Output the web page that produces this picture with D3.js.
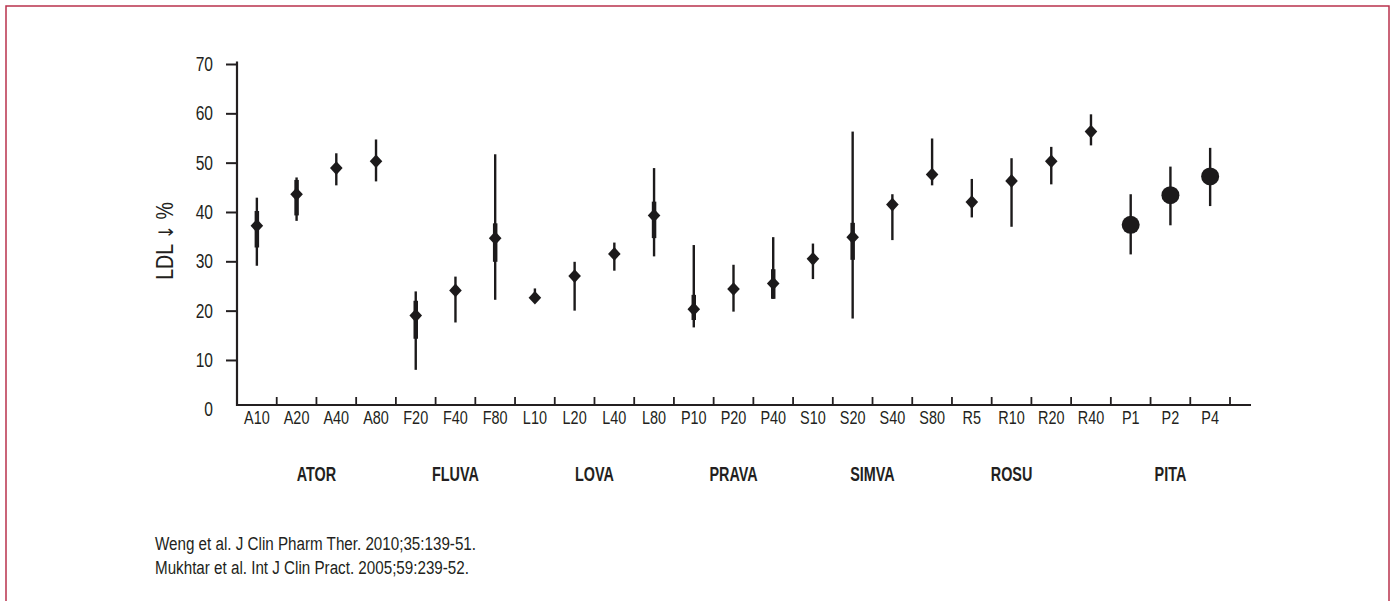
<!DOCTYPE html>
<html>
<head>
<meta charset="utf-8">
<script src="https://cdn.jsdelivr.net/npm/d3@7"></script>
<style>
  html, body { margin: 0; padding: 0; background: #fff; }
  svg { display: block; }
  text { font-family: "Liberation Sans", Arial, Helvetica, sans-serif; fill: #231f20; }
</style>
</head>
<body>
<svg id="chart" width="1395" height="601"></svg>
<script>
// ---- data ----
const categories = ["A10","A20","A40","A80","F20","F40","F80","L10","L20","L40","L80",
  "P10","P20","P40","S10","S20","S40","S80","R5","R10","R20","R40","P1","P2","P4"];
const meanValues = [37.2,43.6,48.9,50.3,19.0,24.1,34.7,22.6,27.0,31.5,39.3,
  20.3,24.4,25.5,30.5,34.9,41.5,47.6,42.0,46.3,50.3,56.3,37.4,43.4,47.2];
const rangeLow  = [29.1,38.2,45.4,46.2,8.0,17.6,22.2,22.0,20.0,28.1,31.0,
  16.6,19.8,22.4,26.4,18.4,34.3,45.4,38.9,37.0,45.6,53.5,31.4,37.3,41.2];
const rangeHigh = [42.9,47.0,51.9,54.7,23.9,26.9,51.7,24.5,29.9,33.8,48.9,
  33.3,29.3,34.9,33.6,56.3,43.6,54.9,46.7,50.9,53.2,59.8,43.6,49.2,53.0];
// inner (thicker) interval, null where none is drawn
const innerLow  = [32.8,39.3,null,null,14.3,null,29.9,null,null,null,34.7,
  18.1,null,22.4,null,30.3,null,null,null,null,null,null,null,null,null];
const innerHigh = [40.2,46.5,null,null,22.0,null,37.7,null,null,null,42.1,
  23.2,null,28.4,null,37.8,null,null,null,null,null,null,null,null,null];
const markerShape = ["d","d","d","d","d","d","d","d","d","d","d",
  "d","d","d","d","d","d","d","d","d","d","d","c","c","c"];
const groupNames = ["ATOR","FLUVA","LOVA","PRAVA","SIMVA","ROSU","PITA"];
const groupAnchors = [["A20","A40"],["F40"],["L20","L40"],["P20"],["S20","S40"],["R10"],["P2"]];
const yTicks = [0,10,20,30,40,50,60,70];
const yLabelParts = ["LDL ", "\u2193", " %"];
const citations = ["Weng et al. J Clin Pharm Ther. 2010;35:139-51.",
  "Mukhtar et al. Int J Clin Pract. 2005;59:239-52."];

// ---- layout ----
const svg = d3.select("#chart");
const ink = "#231f20";
const markInk = "#1c1a1b";
const narrow = 0.76;   // horizontal compression to mimic a condensed face

svg.append("rect").attr("x", 6).attr("y", 6).attr("width", 1383).attr("height", 640)
  .attr("fill", "none").attr("stroke", "#b9324c").attr("stroke-width", 1.5);

const x = d3.scaleBand().domain(categories).range([237, 1230]).padding(0);
const y = d3.scaleLinear().domain([0, 70]).range([409.3, 64]);
const axisY = 405;

const data = categories.map((c, i) => ({
  c, m: meanValues[i], lo: rangeLow[i], hi: rangeHigh[i],
  ilo: innerLow[i], ihi: innerHigh[i], shape: markerShape[i]
}));
const cx = d => x(d.c) + x.bandwidth() / 2;

// y axis
const yAxis = svg.append("g").attr("transform", "translate(237,0)")
  .call(d3.axisLeft(y).tickValues(yTicks).tickSize(11).tickPadding(13).tickSizeOuter(0));
yAxis.select(".domain").remove();
yAxis.selectAll(".tick line").attr("stroke", ink).attr("stroke-width", 2)
  .filter(d => d === 0).remove();
yAxis.selectAll(".tick text").attr("font-size", 20.5).attr("fill", ink)
  .style("font-family", "'Liberation Sans',Arial,sans-serif")
  .attr("x", -24 / narrow).attr("transform", `scale(${narrow},1)`);
svg.append("line").attr("x1", 237).attr("x2", 237).attr("y1", 61.5).attr("y2", axisY + 1)
  .attr("stroke", ink).attr("stroke-width", 2.2);

// x axis
svg.append("line").attr("x1", 236).attr("x2", 1251).attr("y1", axisY).attr("y2", axisY)
  .attr("stroke", ink).attr("stroke-width", 2.2);
svg.append("g").selectAll("line").data(categories).join("line")
  .attr("x1", c => x(c) + x.bandwidth()).attr("x2", c => x(c) + x.bandwidth())
  .attr("y1", axisY).attr("y2", axisY - 8).attr("stroke", ink).attr("stroke-width", 1.8);
const xAxis = svg.append("g").attr("transform", `translate(0,${axisY})`)
  .call(d3.axisBottom(x).tickSize(0).tickPadding(6));
xAxis.select(".domain").remove();
xAxis.selectAll(".tick text").attr("font-size", 19).attr("fill", ink)
  .style("font-family", "'Liberation Sans',Arial,sans-serif")
  .attr("transform", `scale(${narrow},1)`);

// y label
const yl = svg.append("text").attr("transform", `translate(173,241) rotate(-90) scale(0.85,1)`)
  .attr("text-anchor", "middle").attr("font-size", 23);
yl.selectAll("tspan").data(yLabelParts).join("tspan")
  .style("font-family", (t, i) => i === 1 ? "'DejaVu Sans',sans-serif" : null)
  .attr("font-size", (t, i) => i === 1 ? 20 : null)
  .text(t => t);

// group labels
svg.append("g").selectAll("text").data(groupNames).join("text")
  .attr("transform", (g, i) => {
    const gx = d3.mean(groupAnchors[i], c => x(c) + x.bandwidth() / 2);
    return `translate(${gx},481) scale(0.72,1)`;
  })
  .attr("text-anchor", "middle")
  .attr("font-size", 20).attr("font-weight", "bold").text(g => g);

// citations
svg.append("g").selectAll("text").data(citations).join("text")
  .attr("transform", (t, i) => `translate(155,${550 + i * 24}) scale(0.8,1)`)
  .attr("font-size", 19).text(t => t);

// marks
const marks = svg.append("g");
marks.selectAll("line.range").data(data).join("line").attr("class", "range")
  .attr("x1", cx).attr("x2", cx).attr("y1", d => y(d.lo)).attr("y2", d => y(d.hi))
  .attr("stroke", markInk).attr("stroke-width", 2.4);
marks.selectAll("line.inner").data(data.filter(d => d.ilo !== null)).join("line").attr("class", "inner")
  .attr("x1", cx).attr("x2", cx).attr("y1", d => y(d.ilo)).attr("y2", d => y(d.ihi))
  .attr("stroke", markInk).attr("stroke-width", 4.5);
marks.selectAll("path.dia").data(data.filter(d => d.shape === "d")).join("path").attr("class", "dia")
  .attr("d", d => { const X = cx(d), Y = y(d.m), w = 6.3, h = 6.8;
    return `M${X},${Y - h}L${X + w},${Y}L${X},${Y + h}L${X - w},${Y}Z`; })
  .attr("fill", markInk);
marks.selectAll("circle.dot").data(data.filter(d => d.shape === "c")).join("circle").attr("class", "dot")
  .attr("cx", cx).attr("cy", d => y(d.m)).attr("r", 9).attr("fill", markInk);
</script>
</body>
</html>
